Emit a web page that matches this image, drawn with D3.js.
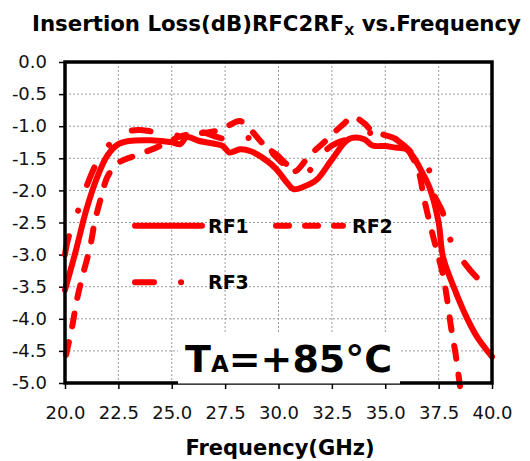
<!DOCTYPE html>
<html>
<head>
<meta charset="utf-8">
<script src="https://cdn.jsdelivr.net/npm/d3@7"></script>
<style>
  html, body { margin: 0; padding: 0; background: #fff; }
  svg { display: block; }
</style>
</head>
<body>
<div id="chart"></div>
<script>
// ---------- data ----------
const xTicks = [20.0, 22.5, 25.0, 27.5, 30.0, 32.5, 35.0, 37.5, 40.0];
const yTicks = [0.0, -0.5, -1.0, -1.5, -2.0, -2.5, -3.0, -3.5, -4.0, -4.5, -5.0];
const seriesNames = ["RF1", "RF2", "RF3"];

const rf1 = [
  [20.0,-3.55],[20.5,-2.95],[21.0,-2.3],[21.5,-1.8],[22.0,-1.45],[22.5,-1.28],[23.0,-1.23],
  [24.0,-1.22],[25.0,-1.25],[25.4,-1.28],[25.7,-1.17],[26.3,-1.23],[27.1,-1.28],[27.4,-1.31],
  [27.7,-1.41],[28.2,-1.36],[28.7,-1.39],[29.5,-1.55],[29.9,-1.67],[30.4,-1.88],[30.7,-1.98],
  [31.2,-1.94],[31.8,-1.83],[32.5,-1.52],[33.3,-1.2],[34.0,-1.2],[34.4,-1.3],[35.0,-1.31],
  [35.4,-1.33],[36.0,-1.36],[36.3,-1.47],[36.7,-1.7],[37.1,-1.98],[37.5,-2.5],[37.7,-3.03],
  [38.2,-3.5],[38.8,-3.97],[39.3,-4.28],[40.0,-4.59]
];
const rf2 = [
  [20.05,-4.56],[20.33,-4.13],[20.56,-3.7],[20.84,-3.31],[21.17,-2.89],[21.4,-2.48],[21.69,-2.11],
  [22.0,-1.78],[22.5,-1.57],[23.2,-1.47],[24.3,-1.33],[25.4,-1.16],[26.0,-1.12],[26.6,-1.1],
  [27.1,-1.07],[27.6,-1.0],[28.2,-0.92],[28.7,-1.06],[29.2,-1.25],[29.6,-1.38],[30.1,-1.55],
  [30.5,-1.66],[30.8,-1.7],[31.3,-1.52],[31.7,-1.38],[32.2,-1.23],[32.6,-1.1],[33.1,-0.95],
  [33.45,-0.85],[34.0,-0.95],[34.4,-1.08],[34.9,-1.13],[35.5,-1.2],[36.0,-1.34],[36.3,-1.5],
  [36.6,-1.75],[36.8,-2.1],[37.1,-2.53],[37.4,-2.92],[37.7,-3.31],[37.9,-3.7],[38.1,-4.17],
  [38.3,-4.56],[38.5,-5.05]
];
const rf3 = [
  [20.0,-3.0],[20.15,-2.75],[20.6,-2.33],[21.17,-1.8],[21.6,-1.5],[22.1,-1.28],[23.0,-1.08],
  [23.5,-1.06],[24.0,-1.08],[25.0,-1.13],[25.5,-1.15],[26.2,-1.08],[27.5,-1.2],[28.7,-1.19],
  [29.3,-1.31],[29.9,-1.44],[30.5,-1.62],[31.3,-1.72],[31.8,-1.55],[32.3,-1.35],[32.8,-1.25],
  [33.3,-1.2],[33.8,-1.15],[34.5,-1.1],[35.2,-1.15],[35.8,-1.28],[36.2,-1.4],[37.0,-1.64],
  [37.2,-2.0],[37.7,-2.35],[38.0,-2.73],[38.6,-3.08],[39.3,-3.36],[40.0,-3.55]
];
const seriesData = [rf1, rf2, rf3];
const dashes = [null, "13,16", "19,27,0.1,27"];

// ---------- layout ----------
const W = 530, H = 461;
const plot = { left: 65, right: 492, top: 62, bottom: 383 };
const red = "#ff0000";
const font = "'DejaVu Sans', Verdana, sans-serif";

const svg = d3.select("#chart").append("svg").attr("width", W).attr("height", H)
  .style("font-family", font);
svg.append("rect").attr("width", W).attr("height", H).attr("fill", "#fff");

const x = d3.scaleLinear().domain([20, 40]).range([plot.left, plot.right]);
const y = d3.scaleLinear().domain([-5, 0]).range([plot.bottom, plot.top]);

// grid
const grid = svg.append("g").attr("stroke", "#9a9a9a").attr("stroke-width", 1)
  .attr("stroke-dasharray", "2,2");
grid.selectAll("line.v").data(xTicks.slice(1, -1)).join("line")
  .attr("x1", d => x(d)).attr("x2", d => x(d)).attr("y1", plot.top).attr("y2", plot.bottom);
grid.selectAll("line.h").data(yTicks.slice(1, -1)).join("line")
  .attr("y1", d => y(d)).attr("y2", d => y(d)).attr("x1", plot.left).attr("x2", plot.right);

// axes
const xAxis = d3.axisBottom(x).tickValues(xTicks).tickFormat(d3.format(".1f")).tickSize(6).tickPadding(17);
const yAxis = d3.axisLeft(y).tickValues(yTicks).tickFormat(d => d3.format(".1f")(d).replace("−", "-")).tickSize(6).tickPadding(12);

const gx = svg.append("g").attr("transform", `translate(0,${plot.bottom})`).call(xAxis);
const gy = svg.append("g").attr("transform", `translate(${plot.left},0)`).call(yAxis);
[gx, gy].forEach(g => {
  g.select(".domain").remove();
  g.selectAll(".tick line").attr("stroke", "#000").attr("stroke-width", 1.5);
  g.selectAll(".tick text").attr("fill", "#111").style("font-family", font).style("font-size", "18px");
});

// lines
const line = d3.line().x(d => x(d[0])).y(d => y(d[1])).curve(d3.curveCatmullRom.alpha(0.5));
svg.append("g").selectAll("path").data(seriesData).join("path")
  .attr("d", d => line(d))
  .attr("fill", "none").attr("stroke", red).attr("stroke-width", 6)
  .attr("stroke-linecap", "round").attr("stroke-linejoin", "round")
  .attr("stroke-dasharray", (d, i) => dashes[i]);

// frame
svg.append("rect").attr("x", plot.left).attr("y", plot.top)
  .attr("width", plot.right - plot.left).attr("height", plot.bottom - plot.top)
  .attr("fill", "none").attr("stroke", "#000").attr("stroke-width", 3.5);

// legend
const legendItems = [
  { name: seriesNames[0], x1: 135, x2: 202, y: -2.55, tx: 208 },
  { name: seriesNames[1], x1: 276, x2: 343, y: -2.55, tx: 352 },
  { name: seriesNames[2], x1: 135, x2: 183, y: -3.43, tx: 208 }
];
const lg = svg.append("g");
legendItems.forEach((it, i) => {
  lg.append("line").attr("x1", it.x1).attr("x2", it.x2).attr("y1", y(it.y)).attr("y2", y(it.y))
    .attr("stroke", red).attr("stroke-width", 6).attr("stroke-linecap", "round")
    .attr("stroke-dasharray", dashes[i]);
  lg.append("text").attr("x", it.tx).attr("y", y(it.y) + 7).text(it.name)
    .attr("font-weight", "bold").attr("font-size", 19).attr("fill", "#000");
});

// temperature label
svg.append("rect").attr("x", 178).attr("y", 334).attr("width", 222).attr("height", 49.5).attr("fill", "#fff");
const ta = svg.append("text").attr("x", 185).attr("y", 372).attr("font-weight", "bold").attr("fill", "#000");
ta.append("tspan").attr("font-size", 38).text("T");
ta.append("tspan").attr("font-size", 23).text("A");
ta.append("tspan").attr("font-size", 38).text("=+85°C");

// title
const title = svg.append("text").attr("x", 32).attr("y", 31).attr("font-weight", "bold")
  .attr("font-size", 21.3).attr("fill", "#000");
title.append("tspan").text("Insertion Loss(dB)RFC2RF");
title.append("tspan").attr("font-size", 13).attr("dy", 4).text("X");
title.append("tspan").attr("dy", -4).text(" vs.Frequency");

// x axis title
svg.append("text").attr("x", 280).attr("y", 455).attr("text-anchor", "middle")
  .attr("font-weight", "bold").attr("font-size", 21).attr("fill", "#000").text("Frequency(GHz)");
</script>
</body>
</html>
